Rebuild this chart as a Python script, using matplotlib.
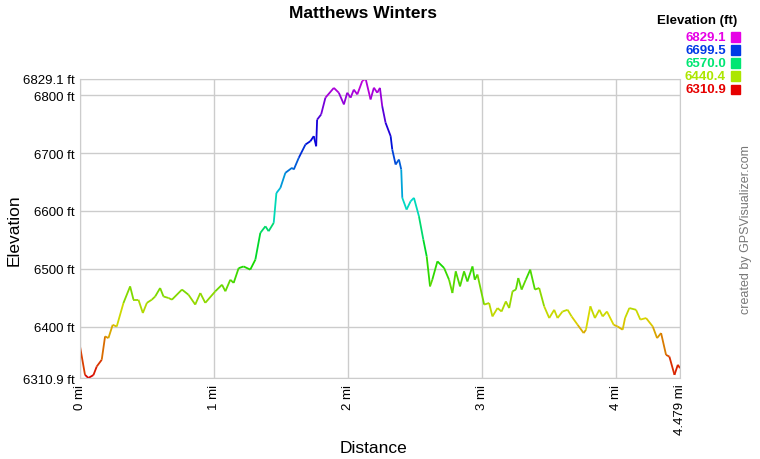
import numpy as np
import matplotlib
matplotlib.use("Agg")
import matplotlib.pyplot as plt
from matplotlib.collections import LineCollection
from matplotlib.colors import hsv_to_rgb

plt.rcParams['font.family'] = ['Liberation Sans', 'DejaVu Sans']

# profile (miles, feet)
dist = [0.0, 0.037, 0.062, 0.1, 0.125, 0.162, 0.187, 0.212, 0.244, 0.274,
        0.324, 0.374, 0.399, 0.436, 0.469, 0.499, 0.536, 0.561, 0.598, 0.623,
        0.661, 0.686, 0.761, 0.81, 0.86, 0.898, 0.935, 1.01, 1.06, 1.085,
        1.122, 1.147, 1.184, 1.221, 1.271, 1.309, 1.346, 1.384, 1.408, 1.446,
        1.466, 1.496, 1.533, 1.583, 1.596, 1.633, 1.683, 1.72, 1.745, 1.763,
        1.77, 1.8, 1.832, 1.895, 1.932, 1.97, 1.995, 2.02, 2.044, 2.07,
        2.107, 2.132, 2.169, 2.194, 2.219, 2.239, 2.256, 2.281, 2.319, 2.331,
        2.356, 2.381, 2.398, 2.406, 2.438, 2.468, 2.493, 2.53, 2.563, 2.588,
        2.613, 2.63, 2.668, 2.718, 2.755, 2.78, 2.805, 2.837, 2.867, 2.892,
        2.93, 2.947, 2.967, 3.017, 3.054, 3.079, 3.117, 3.147, 3.179, 3.204,
        3.229, 3.254, 3.272, 3.297, 3.328, 3.361, 3.396, 3.428, 3.465, 3.503,
        3.54, 3.565, 3.602, 3.64, 3.67, 3.715, 3.76, 3.777, 3.81, 3.844,
        3.877, 3.902, 3.934, 3.984, 4.014, 4.051, 4.069, 4.101, 4.151, 4.183,
        4.226, 4.276, 4.308, 4.338, 4.375, 4.4, 4.438, 4.463, 4.479]
elev = [6365.5, 6316.5, 6311.0, 6316.0, 6331.0, 6342.5, 6383.0, 6380.0, 6403.0, 6400.0,
        6440.6, 6469.5, 6446.5, 6446.5, 6423.4, 6441.0, 6446.5, 6452.0, 6466.7, 6452.0,
        6449.4, 6446.5, 6464.0, 6455.0, 6438.0, 6458.0, 6441.0, 6461.0, 6472.4, 6461.0,
        6481.0, 6475.5, 6501.0, 6504.0, 6498.5, 6515.8, 6562.0, 6573.5, 6565.0, 6579.4,
        6631.0, 6640.0, 6666.0, 6674.7, 6671.8, 6692.0, 6715.0, 6720.8, 6729.5, 6712.0,
        6758.0, 6767.0, 6796.0, 6813.0, 6804.6, 6784.4, 6804.6, 6796.0, 6810.0, 6801.7,
        6824.8, 6829.1, 6793.0, 6813.3, 6804.6, 6813.0, 6781.5, 6752.7, 6729.5, 6706.4,
        6680.4, 6689.0, 6671.8, 6622.7, 6602.4, 6616.8, 6622.7, 6591.0, 6550.4, 6521.5,
        6469.5, 6481.0, 6512.8, 6501.4, 6481.0, 6458.0, 6495.5, 6469.5, 6495.5, 6478.0,
        6504.0, 6481.0, 6490.0, 6438.0, 6440.7, 6417.5, 6432.0, 6426.0, 6443.5, 6432.0,
        6461.0, 6464.0, 6484.0, 6464.0, 6481.0, 6498.5, 6464.0, 6466.7, 6435.0, 6414.7,
        6429.0, 6414.7, 6426.0, 6429.0, 6417.5, 6403.0, 6388.7, 6394.5, 6435.0, 6414.7,
        6429.0, 6417.5, 6426.0, 6403.0, 6400.0, 6394.5, 6414.7, 6432.0, 6429.0, 6412.0,
        6414.7, 6400.0, 6380.0, 6388.7, 6351.0, 6348.0, 6316.4, 6333.8, 6328.0]

e_min, e_max = 6310.9, 6829.1
d_max = 4.479
legend_vals = [6829.1, 6699.5, 6570.0, 6440.4, 6310.9]
y_ticks = [6310.9, 6400, 6500, 6600, 6700, 6800, 6829.1]
y_labels = ["6310.9 ft", "6400 ft", "6500 ft", "6600 ft", "6700 ft", "6800 ft", "6829.1 ft"]
x_ticks = [0, 1, 2, 3, 4, 4.479]
x_labels = ["0 mi", "1 mi", "2 mi", "3 mi", "4 mi", "4.479 mi"]


def elev_color(e, v=0.85):
    frac = (e - e_min) / (e_max - e_min)
    return hsv_to_rgb((frac * 300 / 360, 1.0, v))


fig = plt.figure(figsize=(7.6, 4.6), dpi=100)
ax = fig.add_axes([0.1053, 0.176, 0.7894, 0.651])

# colour each segment by its elevation
pts = np.column_stack([dist, elev])
segs = np.stack([pts[:-1], pts[1:]], axis=1)
mids = (np.array(elev[:-1]) + np.array(elev[1:])) / 2
lc = LineCollection(segs, colors=[elev_color(m) for m in mids], linewidth=1.3)
ax.add_collection(lc)

ax.set_xlim(0, d_max)
ax.set_ylim(e_min, e_max)
ax.set_xticks(x_ticks)
ax.set_xticklabels(x_labels, rotation=90, fontsize=9.5)
ax.set_yticks(y_ticks)
ax.set_yticklabels(y_labels, fontsize=9.5)
ax.tick_params(length=0, pad=4)
ax.grid(True, color="#cccccc", linewidth=1)
for s in ax.spines.values():
    s.set_color("#cccccc")

# axis titles placed on the figure so they stay inside the canvas
fig.text(0.491, 0.026, "Distance", ha="center", va="center", fontsize=12.5)
fig.text(0.019, 0.5, "Elevation", ha="center", va="center", rotation=90,
         fontsize=12.5)
fig.text(0.478, 0.97, "Matthews Winters", ha="center", va="center",
         fontsize=12.5, fontweight="bold")

# elevation colour legend
fig.text(0.97, 0.955, "Elevation (ft)", ha="right", va="center",
         fontsize=9.5, fontweight="bold")
for i, v in enumerate(legend_vals):
    y = 0.918 - i * 0.0285
    c = elev_color(v, 0.9)
    fig.text(0.955, y, f"{v:.1f}", ha="right", va="center", fontsize=9.5,
             fontweight="bold", color=c)
    fig.patches.append(plt.Rectangle((0.9615, y - 0.011), 0.0125, 0.021,
                                     transform=fig.transFigure, color=c))

fig.text(0.99, 0.5, "created by GPSVisualizer.com", rotation=90, ha="right",
         va="center", fontsize=9, color="#777777")

fig.savefig("out.png", dpi=100)
